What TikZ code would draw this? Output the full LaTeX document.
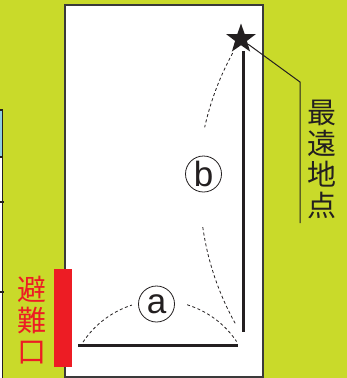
\documentclass[tikz,border=0pt]{standalone}
\usepackage{fontspec}
\setmainfont{Liberation Sans}
\newfontfamily\cjk{Noto Sans CJK JP}
\usetikzlibrary{shapes.geometric}
\definecolor{bg}{HTML}{C9DA2A}
\definecolor{ink}{HTML}{231F20}
\definecolor{exitred}{HTML}{ED1C24}
\definecolor{frame}{HTML}{3A3A3A}
\definecolor{paleblue}{HTML}{8FCFE0}
\tikzset{
  thick line/.style={draw=ink,line width=3pt},
  dash arc/.style={draw=ink,line width=0.8pt,dash pattern=on 3pt off 2.5pt},
  label circle/.style={circle,draw=ink,line width=0.8pt,minimum size=36pt,inner sep=0pt,font=\fontsize{35}{35}\selectfont,text=ink},
  vtext/.style={align=center,font=\cjk\fontsize{29}{31}\selectfont,inner sep=0pt},
}
\begin{document}
\begin{tikzpicture}[x=1pt,y=-1pt]
\useasboundingbox (0,0) rectangle (347,378);
\fill[bg] (0,0) rectangle (347,378);
% partial box at left edge
\fill[paleblue] (0,110) rectangle (2.5,157);
\fill[white] (0,157) rectangle (2.5,378);
\draw[ink,line width=1.2pt] (0,110) -- (2.5,110) -- (2.5,378);
\draw[ink,line width=1.2pt] (0,157) -- (2.5,157);
\draw[ink,line width=1.2pt] (0,202) -- (3.5,202);
\draw[ink,line width=1.2pt] (0,292) -- (3.5,292);
% room
\draw[frame,fill=white,line width=1.5pt] (65,5) rectangle (263,377);
% exit bar and text
\fill[exitred] (54,269) rectangle (72,367);
\node[vtext,text=exitred] (exit) at (32,320) {避\\難\\口};
% star and path
\node[star,star points=5,star point ratio=2.5,fill=ink,minimum size=31pt,inner sep=0pt] (far) at (241,39) {};
\coordinate (vend) at (243,332);
\draw[thick line] (far.center) ++(2,12) -- (vend);
\coordinate (hl) at (78,345);
\coordinate (hr) at (238,345);
\draw[thick line] (hl) -- (hr);
% leader
\coordinate (bend) at (300,82);
\coordinate (lend) at (300,223);
\draw[ink,line width=1pt] (far) -- (bend) -- (lend);
\node[vtext,text=ink] (farlabel) at (322,159) {最\\遠\\地\\点};
% arcs a
\coordinate (ca) at (160,393);
\draw[dash arc] ([shift={(213.5:92.3)}]ca) arc[start angle=213.5,end angle=252.3,radius=92.3];
\draw[dash arc] ([shift={(287.1:92.3)}]ca) arc[start angle=287.1,end angle=326.1,radius=92.3];
% arcs b
\coordinate (cb) at (478,188);
\draw[dash arc] ([shift={(208.8:280)}]cb) arc[start angle=208.8,end angle=192.5,radius=280];
\draw[dash arc] ([shift={(171.9:278)}]cb) arc[start angle=171.9,end angle=150.4,radius=278];
% labels
\node[label circle] (la) at (156.5,304) {a};
\node[label circle] (lb) at (203.5,174) {b};
\end{tikzpicture}
\end{document}
